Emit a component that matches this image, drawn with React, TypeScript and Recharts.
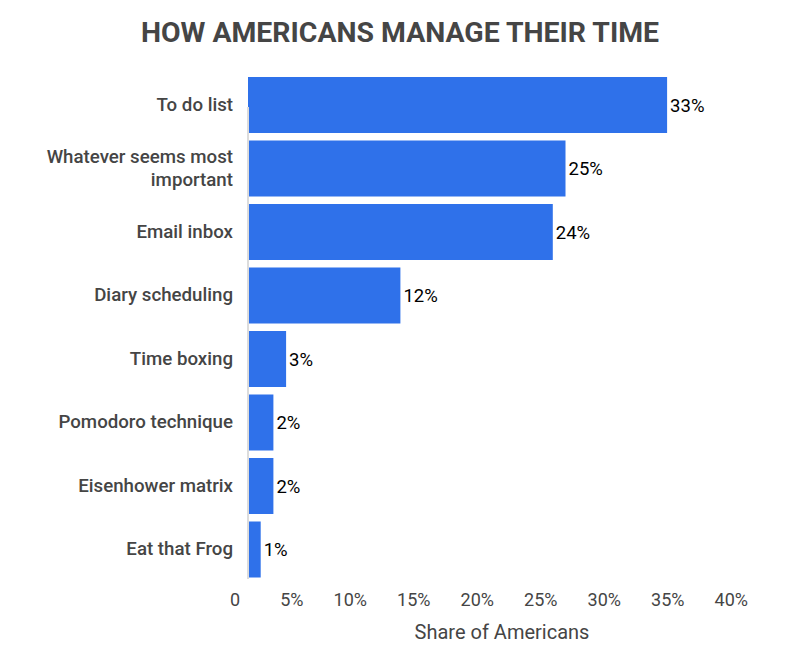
import { BarChart, Bar, XAxis, YAxis, LabelList, ReferenceLine } from 'recharts'

const methods = [
  'To do list',
  'Whatever seems most important',
  'Email inbox',
  'Diary scheduling',
  'Time boxing',
  'Pomodoro technique',
  'Eisenhower matrix',
  'Eat that Frog',
]
const shares = [33, 25, 24, 12, 3, 2, 2, 1]
const xTicks = [0, 5, 10, 15, 20, 25, 30, 35, 40]

const data = methods.map((m, i) => ({ method: m, share: shares[i] }))

const FONT = 'Roboto, "Noto Sans", sans-serif'
const GREY = '#454545'
const BLUE = '#2f71ea'

// wrap long category names the way the original does
const WRAPS: Record<string, string[]> = {
  'Whatever seems most important': ['Whatever seems most', 'important'],
}

function CategoryTick({ x, y, payload }: any) {
  const lines = WRAPS[payload.value] ?? [payload.value]
  const lh = 23
  const start = -((lines.length - 1) * lh) / 2
  return (
    <text
      x={x}
      y={y}
      textAnchor="end"
      fill={GREY}
      fontFamily={FONT}
      fontSize={18.7}
      fontWeight={500}
    >
      {lines.map((l, i) => (
        <tspan key={i} x={x - 7} dy={i === 0 ? start : lh} dominantBaseline="central">
          {l}
        </tspan>
      ))}
    </text>
  )
}

function ShareTick({ x, y, payload }: any) {
  return (
    <text
      x={x - 8}
      y={y + 17}
      textAnchor="end"
      fill={GREY}
      fontFamily={FONT}
      fontSize={18}
    >
      {payload.value === 0 ? '0' : `${payload.value}%`}
    </text>
  )
}

function AxisRule({ x1, y1, y2 }: any) {
  return <line x1={x1} x2={x1} y1={y1 - 2} y2={y2 + 34} stroke="#dcdcdc" strokeWidth={2} />
}

export default function App() {
  return (
    <div
      style={{
        position: 'absolute',
        left: 0,
        top: 0,
        width: 800,
        height: 655,
        background: '#fff',
        fontFamily: FONT,
      }}
    >
      <div
        style={{
          position: 'absolute',
          top: 16,
          left: 0,
          width: 800,
          textAlign: 'center',
          fontSize: 28.4,
          fontWeight: 700,
          color: GREY,
        }}
      >
        HOW AMERICANS MANAGE THEIR TIME
      </div>
      <BarChart
        width={800}
        height={655}
        data={data}
        layout="vertical"
        barCategoryGap={4}
        margin={{ top: 73, right: 44, bottom: 14, left: 0 }}
      >
        <XAxis
          type="number"
          domain={[0, 40]}
          ticks={xTicks}
          interval={0}
          axisLine={false}
          tickLine={false}
          tick={<ShareTick />}
          height={60}
          label={{
            value: 'Share of Americans',
            position: 'insideBottom',
            offset: 2,
            fill: GREY,
            fontSize: 20,
            fontFamily: FONT,
          }}
        />
        <YAxis
          type="category"
          dataKey="method"
          width={248}
          axisLine={false}
          tickLine={false}
          interval={0}
          tick={<CategoryTick />}
        />
        <Bar dataKey="share" fill={BLUE} isAnimationActive={false}>
          <LabelList
            dataKey="share"
            position="right"
            offset={3}
            formatter={(v: any) => `${v}%`}
            fill="#000"
            fontSize={18.5}
            fontWeight={400}
            fontFamily={FONT}
          />
        </Bar>
        <ReferenceLine x={0} shape={<AxisRule />} ifOverflow="visible" />
      </BarChart>
    </div>
  )
}
